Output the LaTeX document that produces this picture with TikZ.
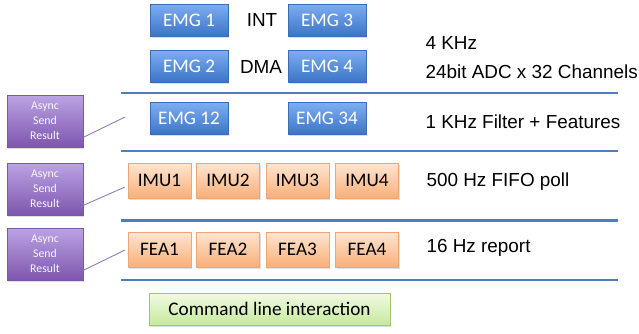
\documentclass[tikz,border=0pt]{standalone}
\usepackage{fontspec}
\setmainfont{Liberation Sans}
\newfontfamily\calib{Carlito}
\usetikzlibrary{shadows}

\definecolor{emgtop}{HTML}{7DAEF2}
\definecolor{emgbot}{HTML}{3C74C6}
\definecolor{emgedge}{HTML}{3A6DB5}
\definecolor{imutop}{HTML}{FEE6D2}
\definecolor{imubot}{HTML}{F9AE78}
\definecolor{imuedge}{HTML}{F0A672}
\definecolor{asytop}{HTML}{BBA3E4}
\definecolor{asybot}{HTML}{7E56AE}
\definecolor{asyedge}{HTML}{7A58A8}
\definecolor{clitop}{HTML}{F2FAE4}
\definecolor{clibot}{HTML}{C6E99C}
\definecolor{cliedge}{HTML}{9CC86E}
\definecolor{rulecol}{HTML}{4F7FBB}

\tikzset{
  box/.style={draw, line width=0.8pt,
    drop shadow={opacity=0.25, shadow xshift=1pt, shadow yshift=-1.5pt},
    font={\calib\fontsize{19.2}{21}\selectfont}},
  emg/.style={box, draw=emgedge, top color=emgtop, bottom color=emgbot,
    text=white, minimum width=78pt, minimum height=32pt},
  imu/.style={box, draw=imuedge, top color=imutop, bottom color=imubot,
    minimum width=63pt, minimum height=35pt},
  async/.style={box, draw=asyedge, top color=asytop, bottom color=asybot,
    text=white!90!asytop, align=center, minimum width=76pt, minimum height=52pt,
    font={\calib\fontsize{11.8}{15}\selectfont}},
  note/.style={anchor=west, font=\fontsize{18.9}{21}\selectfont},
  rule/.style={rulecol, line width=2.3pt},
  link/.style={asyedge!80, line width=0.9pt},
}

\begin{document}
\begin{tikzpicture}[x=1pt,y=-1pt]
  \useasboundingbox (0,0) rectangle (639,333);

  % ADC channels
  \node[emg] (emg1) at (189,20) {EMG 1};
  \node[emg] (emg2) at (189,66) {EMG 2};
  \node[emg] (emg3) at (327,20) {EMG 3};
  \node[emg] (emg4) at (327,66) {EMG 4};
  \node[font=\fontsize{18.9}{21}\selectfont] (int) at (262,20) {INT};
  \node[font=\fontsize{18.9}{21}\selectfont] (dma) at (261,67) {DMA};
  \node[note] (khz4) at (422,43) {4 KHz};
  \node[note] (adc) at (422,72) {24bit ADC x 32 Channels};

  % separators
  \foreach \y in {93,151,220.5,280}
    \draw[rule] (121,\y) -- (618,\y);

  % filter
  \node[emg] (emg12) at (189,118.5) {EMG 12};
  \node[emg] (emg34) at (327,118.5) {EMG 34};
  \node[note] (filt) at (422,122) {1 KHz Filter + Features};

  % imu and feature reports
  \foreach \i/\x in {1/159.5,2/228,3/297.5,4/367} {
    \node[imu] (imu\i) at (\x,180.5) {IMU\i};
    \node[imu] (fea\i) at (\x,249.5) {FEA\i};
  }
  \node[note] (fifo) at (423,182) {500 Hz FIFO poll};
  \node[note] (rep) at (423,248) {16 Hz report};

  % async senders
  \node[async] (async1) at (45,121) {Async\\Send\\Result};
  \node[async] (async2) at (45,189) {Async\\Send\\Result};
  \node[async] (async3) at (45,254) {Async\\Send\\Result};
  \coordinate (to1) at (125,117);
  \coordinate (to2) at (125,187);
  \coordinate (to3) at (125,250);
  \draw[link] (async1.-23) -- (to1);
  \draw[link] (async2.-23) -- (to2);
  \draw[link] (async3.-23) -- (to3);

  \node[box, draw=cliedge, top color=clitop, bottom color=clibot,
    minimum width=241pt, minimum height=32pt] (cli) at (269.5,309)
    {Command line interaction};
\end{tikzpicture}
\end{document}
